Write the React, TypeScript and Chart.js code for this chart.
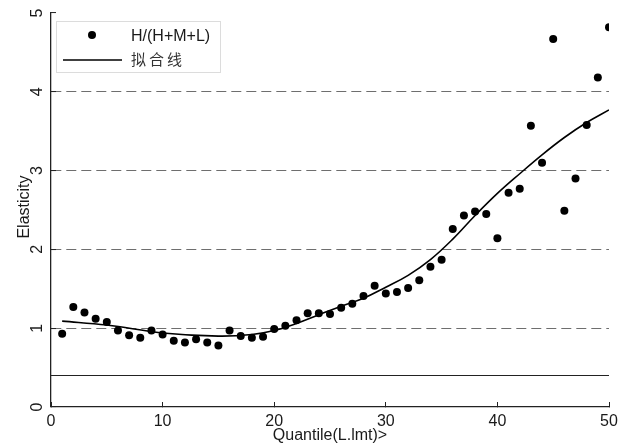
import React, { useEffect, useRef } from "react";
import { Chart, registerables } from "chart.js";

Chart.register(...registerables);

const quantiles = [1,2,3,4,5,6,7,8,9,10,11,12,13,14,15,16,17,18,19,20,21,22,23,24,25,26,27,28,29,30,31,32,33,34,35,36,37,38,39,40,41,42,43,44,45,46,47,48,49,50];
const elasticity = [0.93,1.27,1.20,1.12,1.08,0.97,0.91,0.88,0.97,0.92,0.84,0.82,0.86,0.82,0.78,0.97,0.90,0.88,0.89,0.99,1.03,1.10,1.19,1.19,1.18,1.26,1.31,1.41,1.54,1.44,1.46,1.51,1.61,1.78,1.87,2.26,2.43,2.48,2.45,2.14,2.72,2.77,3.57,3.10,4.67,2.49,2.90,3.58,4.18,4.82];
const fitX = [1,5,10,15,18,20,22,24,26,28,30,32,34,36,38,40,42,44,46,48,50];
const fitY = [1.09,1.04,0.94,0.90,0.92,0.97,1.06,1.17,1.28,1.38,1.52,1.67,1.87,2.13,2.43,2.71,2.96,3.20,3.42,3.61,3.77];
const refX = [0, 50];
const refY = [0.4, 0.4];
const yTickValues = [0, 1, 2, 3, 4, 5];
const dashedLevels = [1, 2, 3, 4];
const seriesLabel = "H/(H+M+L)";
const fitLabel = "拟合线";
const xTitle = "Quantile(L.lmt)>";
const yTitle = "Elasticity";

const FONT = "'Liberation Sans', Arial, sans-serif";
const TEXT = "#1a1a1a";

const overlayPlugin = {
  id: "overlay",
  afterDraw(chart: any) {
    const ctx = chart.ctx;
    const ys = chart.scales.y;
    const area = chart.chartArea;
    ctx.save();
    ctx.fillStyle = TEXT;
    ctx.font = `16px ${FONT}`;
    ctx.textAlign = "center";
    ctx.textBaseline = "middle";
    yTickValues.forEach((v) => {
      const py = ys.getPixelForValue(v);
      ctx.save();
      ctx.translate(38, py);
      ctx.rotate(-Math.PI / 2);
      ctx.fillText(String(v), 0, 0);
      ctx.restore();
    });
    ctx.save();
    ctx.translate(25, (area.top + area.bottom) / 2 - 3);
    ctx.rotate(-Math.PI / 2);
    ctx.fillText(yTitle, 0, 0);
    ctx.restore();
    ctx.textBaseline = "alphabetic";
    ctx.fillText(xTitle, (area.left + area.right) / 2, 440);
    const lx = 56, ly = 21, lw = 164, lh = 51;
    ctx.fillStyle = "#ffffff";
    ctx.fillRect(lx, ly, lw, lh);
    ctx.strokeStyle = "#dcdcdc";
    ctx.lineWidth = 1;
    ctx.strokeRect(lx + 0.5, ly + 0.5, lw, lh);
    ctx.fillStyle = "#000";
    ctx.beginPath();
    ctx.arc(92, 35, 4, 0, Math.PI * 2);
    ctx.fill();
    ctx.strokeStyle = "#000";
    ctx.lineWidth = 1.6;
    ctx.beginPath();
    ctx.moveTo(63, 60);
    ctx.lineTo(122, 60);
    ctx.stroke();
    ctx.fillStyle = TEXT;
    ctx.textAlign = "left";
    ctx.textBaseline = "middle";
    ctx.font = `16px ${FONT}`;
    ctx.fillText(seriesLabel, 131, 37);
    ctx.fillStyle = "#333";
    ctx.font = `15px 'Noto Sans CJK SC', sans-serif`;
    ctx.fillText(fitLabel.split("").join("\u2009"), 131, 59);
    ctx.restore();
  },
};

export default function App() {
  const ref = useRef<HTMLCanvasElement | null>(null);
  useEffect(() => {
    if (!ref.current) return;
    const chart = new Chart(ref.current, {
      type: "scatter",
      data: {
        datasets: [
          {
            label: seriesLabel,
            data: quantiles.map((q, i) => ({ x: q, y: elasticity[i] })),
            pointRadius: 4,
            pointBackgroundColor: "#000",
            pointBorderWidth: 0,
            showLine: false,
          },
          {
            label: fitLabel,
            data: fitX.map((q, i) => ({ x: q, y: fitY[i] })),
            showLine: true,
            borderColor: "#000",
            borderWidth: 1.6,
            pointRadius: 0,
            tension: 0.4,
          },
          {
            label: "ref",
            data: refX.map((q, i) => ({ x: q, y: refY[i] })),
            showLine: true,
            borderColor: "#222",
            borderWidth: 1.2,
            pointRadius: 0,
          },
        ],
      },
      options: {
        animation: false,
        responsive: false,
        layout: { padding: { left: 0, top: 13, right: 14, bottom: 0 } },
        plugins: { legend: { display: false }, tooltip: { enabled: false } },
        scales: {
          x: {
            type: "linear",
            min: 0,
            max: 50,
            afterFit: (s: any) => { s.height = 37; s.paddingLeft = 0; s.paddingRight = 0; },
            ticks: { stepSize: 10, color: TEXT, font: { size: 16, family: FONT }, padding: 10, maxRotation: 0 },
            grid: { drawOnChartArea: false, tickLength: -5, tickColor: "#222", tickWidth: 1 },
            border: { color: "#222", width: 1.3 },
          },
          y: {
            type: "linear",
            min: 0,
            max: 5,
            afterFit: (s: any) => { s.width = 51; s.paddingTop = 0; s.paddingBottom = 0; },
            ticks: { stepSize: 1, display: false },
            grid: {
              color: (c: any) => (dashedLevels.includes(c.tick?.value) ? "#6e6e6e" : "rgba(0,0,0,0)"),
              lineWidth: 1.1,
              tickLength: -5,
              tickColor: "#222",
              tickWidth: 1,
            },
            border: { color: "#222", width: 1.3, dash: [10, 5] },
          },
        },
      },
      plugins: [overlayPlugin],
    });
    return () => chart.destroy();
  }, []);
  return (
    <div style={{ position: "absolute", left: 0, top: 0, width: 623, height: 444, background: "#fff" }}>
      <canvas ref={ref} width={623} height={444} style={{ width: 623, height: 444 }} />
    </div>
  );
}
